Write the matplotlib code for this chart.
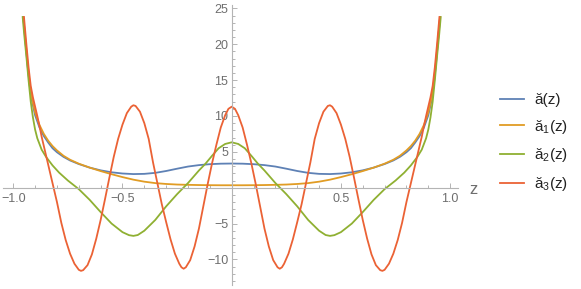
import matplotlib
matplotlib.use("Agg")
import matplotlib.pyplot as plt
from matplotlib.ticker import MultipleLocator, FixedLocator
from matplotlib.lines import Line2D

plt.rcParams['font.family'] = ['Liberation Sans', 'DejaVu Sans']

# curve data (blue and orange share one z grid)
z_smooth = [-0.954, -0.945, -0.935, -0.925, -0.915, -0.90, -0.88, -0.86, -0.84, -0.82,
            -0.80, -0.77, -0.74, -0.70, -0.65, -0.60, -0.55, -0.50, -0.45, -0.40,
            -0.35, -0.30, -0.25, -0.20, -0.15, -0.10, -0.05, 0.0,
            0.05, 0.10, 0.15, 0.20, 0.25, 0.30, 0.35, 0.40, 0.45, 0.50,
            0.55, 0.60, 0.65, 0.70, 0.74, 0.77, 0.80, 0.82, 0.84, 0.86,
            0.88, 0.90, 0.915, 0.925, 0.935, 0.945, 0.954]
a0 = [23.8, 20.6, 17.2, 14.3, 12.2, 10.1, 8.4, 7.2, 6.3, 5.5,
      4.95, 4.3, 3.8, 3.3, 2.8, 2.42, 2.15, 1.98, 1.9, 1.93,
      2.07, 2.33, 2.65, 2.95, 3.15, 3.28, 3.35, 3.37,
      3.35, 3.28, 3.15, 2.95, 2.65, 2.33, 2.07, 1.93, 1.9, 1.98,
      2.15, 2.42, 2.8, 3.3, 3.8, 4.3, 4.95, 5.5, 6.3, 7.2,
      8.4, 10.1, 12.2, 14.3, 17.2, 20.6, 23.8]
a1 = [23.8, 20.8, 17.5, 14.6, 12.5, 10.5, 8.75, 7.5, 6.55, 5.8,
      5.2, 4.45, 3.9, 3.35, 2.8, 2.32, 1.88, 1.48, 1.12, 0.84,
      0.64, 0.52, 0.44, 0.40, 0.37, 0.35, 0.34, 0.34,
      0.34, 0.35, 0.37, 0.40, 0.44, 0.52, 0.64, 0.84, 1.12, 1.48,
      1.88, 2.32, 2.8, 3.35, 3.9, 4.45, 5.2, 5.8, 6.55, 7.5,
      8.75, 10.5, 12.5, 14.6, 17.5, 20.8, 23.8]

z_a2 = [-0.957, -0.95, -0.94, -0.93, -0.92, -0.91, -0.90, -0.89, -0.87, -0.85,
        -0.82, -0.79, -0.75, -0.70, -0.65, -0.60, -0.55, -0.50, -0.47, -0.45,
        -0.43, -0.40, -0.35, -0.30, -0.25, -0.20, -0.15, -0.12, -0.09, -0.06,
        -0.03, 0.0,
        0.03, 0.06, 0.09, 0.12, 0.15, 0.20, 0.25, 0.30, 0.35, 0.40,
        0.43, 0.45, 0.47, 0.50, 0.55, 0.60, 0.65, 0.70, 0.75, 0.79,
        0.82, 0.85, 0.87, 0.89, 0.90, 0.91, 0.92, 0.93, 0.94, 0.95, 0.957]
a2 = [23.8, 21.4, 18.3, 15.0, 12.0, 9.8, 8.1, 6.9, 5.3, 4.3,
      3.1, 2.1, 1.0, -0.2, -1.7, -3.4, -5.0, -6.2, -6.62, -6.72,
      -6.6, -6.0, -4.5, -2.6, -0.9, 0.65, 2.4, 3.35, 4.45, 5.5,
      6.1, 6.33,
      6.1, 5.5, 4.45, 3.35, 2.4, 0.65, -0.9, -2.6, -4.5, -6.0,
      -6.6, -6.72, -6.62, -6.2, -5.0, -3.4, -1.7, -0.2, 1.0, 2.1,
      3.1, 4.3, 5.3, 6.9, 8.1, 9.8, 12.0, 15.0, 18.3, 21.4, 23.8]

z_a3 = [-0.951, -0.94, -0.93, -0.92, -0.91, -0.90, -0.89, -0.88, -0.87, -0.86,
        -0.85, -0.84, -0.83, -0.82, -0.81, -0.80, -0.78, -0.76, -0.74, -0.72,
        -0.70, -0.69, -0.68, -0.66, -0.64, -0.62, -0.60, -0.58, -0.56, -0.54,
        -0.52, -0.50, -0.48, -0.46, -0.45, -0.44, -0.42, -0.40, -0.38, -0.36,
        -0.34, -0.32, -0.30, -0.28, -0.26, -0.24, -0.23, -0.22, -0.21, -0.19,
        -0.17, -0.15, -0.13, -0.11, -0.09, -0.07, -0.05, -0.03, -0.015, 0.0,
        0.015, 0.03, 0.05, 0.07, 0.09, 0.11, 0.13, 0.15, 0.17, 0.19,
        0.21, 0.22, 0.23, 0.24, 0.26, 0.28, 0.30, 0.32, 0.34, 0.36,
        0.38, 0.40, 0.42, 0.44, 0.45, 0.46, 0.48, 0.50, 0.52, 0.54,
        0.56, 0.58, 0.60, 0.62, 0.64, 0.66, 0.68, 0.69, 0.70, 0.72,
        0.74, 0.76, 0.78, 0.80, 0.81, 0.82, 0.83, 0.84, 0.85, 0.86,
        0.87, 0.88, 0.89, 0.90, 0.91, 0.92, 0.93, 0.94, 0.951]
a3 = [23.8, 20.0, 16.8, 14.2, 12.6, 11.3, 10.0, 8.6, 7.1, 5.8,
      4.5, 3.2, 1.9, 0.6, -0.7, -2.0, -4.9, -7.3, -9.2, -10.6,
      -11.45, -11.6, -11.5, -10.8, -9.3, -7.1, -4.5, -1.6, 1.4, 4.3,
      6.8, 8.8, 10.4, 11.3, 11.5, 11.4, 10.6, 9.0, 6.8, 3.5,
      0.6, -2.3, -4.8, -7.2, -9.2, -10.6, -11.1, -11.3, -11.1, -10.1,
      -8.2, -5.7, -2.6, 0.5, 3.4, 6.0, 8.4, 10.1, 11.0, 11.3,
      11.0, 10.1, 8.4, 6.0, 3.4, 0.5, -2.6, -5.7, -8.2, -10.1,
      -11.1, -11.3, -11.1, -10.6, -9.2, -7.2, -4.8, -2.3, 0.6, 3.5,
      6.8, 9.0, 10.6, 11.4, 11.5, 11.3, 10.4, 8.8, 6.8, 4.3,
      1.4, -1.6, -4.5, -7.1, -9.3, -10.8, -11.5, -11.6, -11.45, -10.6,
      -9.2, -7.3, -4.9, -2.0, -0.7, 0.6, 1.9, 3.2, 4.5, 5.8,
      7.1, 8.6, 10.0, 11.3, 12.6, 14.2, 16.8, 20.0, 23.8]

labels = ['ă(z)', r'ă$_\mathregular{1}$(z)', r'ă$_\mathregular{2}$(z)', r'ă$_\mathregular{3}$(z)']
colors = ['#5E81B5', '#E19C24', '#8FB032', '#EB6235']
x_major = [-1.0, -0.5, 0.5, 1.0]
y_major = [-10, -5, 5, 10, 15, 20, 25]

axis_col = '#b4b4b4'
text_col = '#6e6e6e'

fig = plt.figure(figsize=(5.81, 2.89), dpi=100)
ax = fig.add_axes([3 / 581, 4 / 289, 455 / 581, 280 / 289])

series = [(z_smooth, a0), (z_smooth, a1), (z_a2, a2), (z_a3, a3)]
for (zz, vv), c in zip(series, colors):
    ax.plot(zz, vv, color=c, lw=1.3, solid_joinstyle='round')

ax.set_xlim(-1.047, 1.036)
ax.set_ylim(-13.57, 25.48)

for side in ['top', 'right']:
    ax.spines[side].set_visible(False)
for side in ['left', 'bottom']:
    ax.spines[side].set_position('zero')
    ax.spines[side].set_color(axis_col)
    ax.spines[side].set_linewidth(0.8)

ax.xaxis.set_major_locator(FixedLocator(x_major))
ax.xaxis.set_minor_locator(MultipleLocator(0.1))
ax.yaxis.set_major_locator(FixedLocator(y_major))
ax.yaxis.set_minor_locator(MultipleLocator(1))
ax.set_xticklabels(['−1.0', '−0.5', '0.5', '1.0'])
ax.tick_params(which='both', direction='in', color=axis_col, width=0.7,
               labelcolor=text_col, labelsize=9)
ax.tick_params(which='major', length=3.5)
ax.tick_params(which='minor', length=2)
ax.tick_params(axis='x', pad=4)
ax.tick_params(axis='y', pad=2.5)

ax.annotate('z', xy=(1, 0), xycoords=('axes fraction', 'data'),
            xytext=(15, -2), textcoords='offset pixels',
            ha='center', va='center', fontsize=12, color=text_col)

handles = [Line2D([], [], color=c, lw=1.3) for c in colors]
fig.legend(handles, labels, loc='center left', bbox_to_anchor=(500 / 581, 1 - 143 / 289),
           frameon=False, borderpad=0, borderaxespad=0, handlelength=1.6,
           handletextpad=0.65, labelspacing=0.7, fontsize=11, labelcolor='#222222')

fig.savefig('out.png', dpi=100)
